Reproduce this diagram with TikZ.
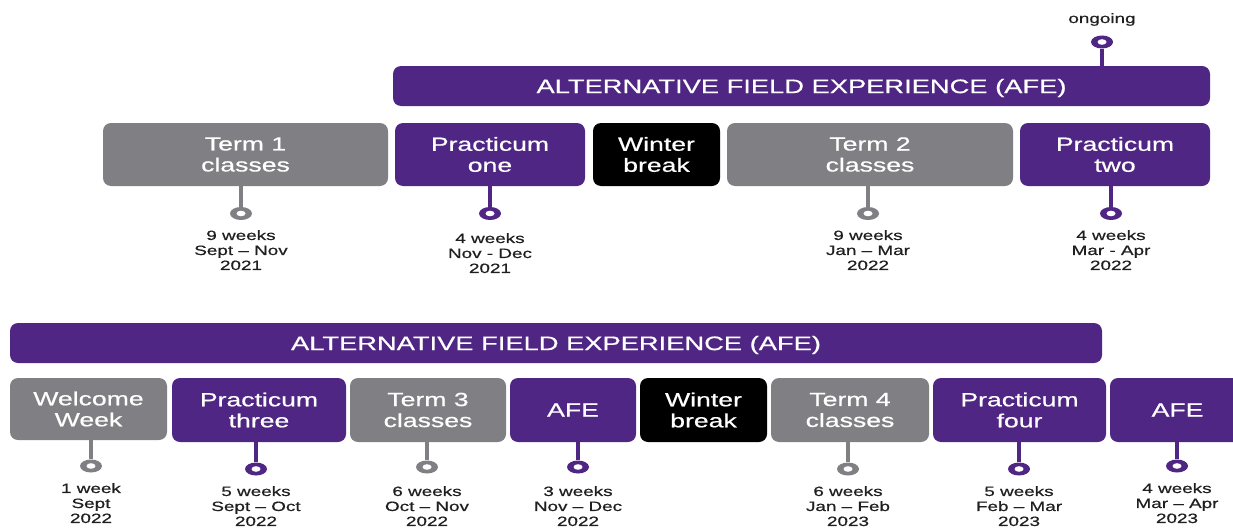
\documentclass[tikz,border=0pt]{standalone}
\usepackage{fontspec}
\setmainfont[FakeStretch=1.4,FakeBold=0.6]{Liberation Sans}
\usetikzlibrary{shapes.geometric}
\definecolor{westpurple}{HTML}{4F2683}
\definecolor{westgray}{HTML}{807F83}

\begin{document}
\begin{tikzpicture}[x=1pt,y=-1pt,
	box/.style={rounded corners=8pt, minimum height=63pt, inner sep=0pt, align=center,
		text=white, font=\fontsize{19}{21}\selectfont},
	purplebox/.style={box, fill=westpurple},
	graybox/.style={box, fill=westgray},
	blackbox/.style={box, fill=black},
	banner/.style={rounded corners=8pt, fill=westpurple, minimum height=40pt, inner sep=0pt,
		text depth=0pt, text=white, font=\fontsize{19.5}{21}\selectfont},
	pin/.style={ellipse, fill=#1, minimum width=22pt, minimum height=13pt, inner sep=0pt,
		path picture={\fill[white] (path picture bounding box.center) ellipse [x radius=4.5pt, y radius=2.8pt];}},
	stem/.style={line width=4.5pt, draw=#1},
	datelabel/.style={align=center, anchor=north, inner sep=0pt, text=black!88,
		font=\fontsize{13.5}{15}\selectfont}]
\useasboundingbox (0,0) rectangle (1233,527);

% first year
\node[banner, minimum width=817pt] (afe1) at (801.5,86) {ALTERNATIVE FIELD EXPERIENCE (AFE)};
\node[pin=westpurple] (pon) at (1102,42) {};
\node[anchor=base, inner sep=0pt, text=black!88, font=\fontsize{13.5}{15}\selectfont] (on) at (1102,23) {ongoing};
\draw[stem=westpurple] (afe1.north -| pon) -- (pon.south);

\node[graybox, minimum width=285pt] (term1) at (245.5,154.5) {Term 1\\classes};
\node[purplebox, minimum width=190pt] (prac1) at (490,154.5) {Practicum\\one};
\node[blackbox, minimum width=127pt] (wint1) at (656.5,154.5) {Winter\\break};
\node[graybox, minimum width=286pt] (term2) at (870,154.5) {Term 2\\classes};
\node[purplebox, minimum width=190pt] (prac2) at (1115,154.5) {Practicum\\two};

\node[pin=westgray] (pterm1) at (241,213.5) {};
\node[pin=westpurple] (pprac1) at (490,213.5) {};
\node[pin=westgray] (pterm2) at (868,213.5) {};
\node[pin=westpurple] (pprac2) at (1111,213.5) {};
\draw[stem=westgray] (term1.south -| pterm1) -- (pterm1.north);
\draw[stem=westpurple] (prac1.south -| pprac1) -- (pprac1.north);
\draw[stem=westgray] (term2.south -| pterm2) -- (pterm2.north);
\draw[stem=westpurple] (prac2.south -| pprac2) -- (pprac2.north);

\node[datelabel] (lterm1) at (241,230) {9 weeks\\Sept – Nov\\2021};
\node[datelabel] (lprac1) at (490,233) {4 weeks\\Nov - Dec\\2021};
\node[datelabel] (lterm2) at (868,230) {9 weeks\\Jan – Mar\\2022};
\node[datelabel] (lprac2) at (1111,230) {4 weeks\\Mar - Apr\\2022};

% second year
\node[banner, minimum width=1092pt] (afe2) at (556,343) {ALTERNATIVE FIELD EXPERIENCE (AFE)};

\node[graybox, minimum width=157pt, minimum height=62pt] (welc) at (88.5,409) {Welcome\\Week};
\node[purplebox, minimum width=174pt, minimum height=64pt] (prac3) at (259,410) {Practicum\\three};
\node[graybox, minimum width=156pt, minimum height=64pt] (term3) at (428,410) {Term 3\\classes};
\node[purplebox, minimum width=126pt, minimum height=64pt] (afe3) at (573,410) {AFE};
\node[blackbox, minimum width=127pt, minimum height=64pt] (wint2) at (703.5,410) {Winter\\break};
\node[graybox, minimum width=158pt, minimum height=64pt] (term4) at (850,410) {Term 4\\classes};
\node[purplebox, minimum width=173pt, minimum height=64pt] (prac4) at (1019.5,410) {Practicum\\four};
\node[purplebox, minimum width=135pt, minimum height=64pt] (afe4) at (1177.5,410) {AFE};

\node[pin=westgray] (pwelc) at (91,466) {};
\node[pin=westpurple] (pprac3) at (256,469) {};
\node[pin=westgray] (pterm3) at (427,467) {};
\node[pin=westpurple] (pafe3) at (578,467) {};
\node[pin=westgray] (pterm4) at (848,469) {};
\node[pin=westpurple] (pprac4) at (1019,469) {};
\node[pin=westpurple] (pafe4) at (1177,466) {};
\draw[stem=westgray] (welc.south -| pwelc) -- (pwelc.north);
\draw[stem=westpurple] (prac3.south -| pprac3) -- (pprac3.north);
\draw[stem=westgray] (term3.south -| pterm3) -- (pterm3.north);
\draw[stem=westpurple] (afe3.south -| pafe3) -- (pafe3.north);
\draw[stem=westgray] (term4.south -| pterm4) -- (pterm4.north);
\draw[stem=westpurple] (prac4.south -| pprac4) -- (pprac4.north);
\draw[stem=westpurple] (afe4.south -| pafe4) -- (pafe4.north);

\node[datelabel] (lwelc) at (91,483) {1 week\\Sept\\2022};
\node[datelabel] (lprac3) at (256,486) {5 weeks\\Sept – Oct\\2022};
\node[datelabel] (lterm3) at (427,486) {6 weeks\\Oct – Nov\\2022};
\node[datelabel] (lafe3) at (578,486) {3 weeks\\Nov – Dec\\2022};
\node[datelabel] (lterm4) at (848,486) {6 weeks\\Jan – Feb\\2023};
\node[datelabel] (lprac4) at (1019,486) {5 weeks\\Feb – Mar\\2023};
\node[datelabel] (lafe4) at (1177,483) {4 weeks\\Mar – Apr\\2023};
\end{tikzpicture}
\end{document}
